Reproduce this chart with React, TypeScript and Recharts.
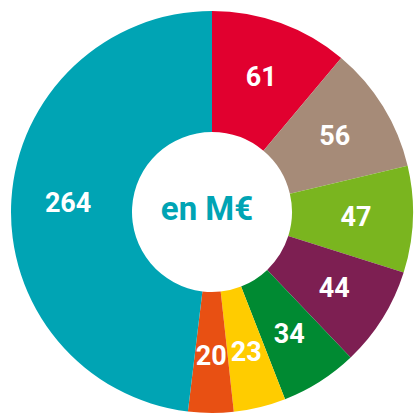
import { Cell, Label, Pie, PieChart } from "recharts";

const CATEGORIES = ["A", "B", "C", "D", "E", "F", "G", "H"];
const VALUES = [61, 56, 47, 44, 34, 23, 20, 264];
const COLORS = [
  "#e1002f",
  "#a68b78",
  "#7ab51f",
  "#7d1f52",
  "#008a32",
  "#ffcc00",
  "#e85013",
  "#00a4b4",
];

const RAD = Math.PI / 180;

const data = CATEGORIES.map((name, i) => ({ name, value: VALUES[i] }));

function renderLabel(props: any) {
  const { cx, cy, midAngle, innerRadius, outerRadius, value } = props;
  const r = innerRadius + (outerRadius - innerRadius) * 0.53;
  const x = cx + r * Math.cos(-midAngle * RAD);
  const y = cy + r * Math.sin(-midAngle * RAD);
  return (
    <text
      x={x}
      y={y}
      fill="#fff"
      textAnchor="middle"
      dominantBaseline="central"
      fontFamily="Roboto, sans-serif"
      fontWeight={700}
      fontSize={27}
    >
      {value}
    </text>
  );
}

export default function App() {
  return (
    <div style={{ position: "absolute", left: 0, top: 0, background: "#fff" }}>
      <PieChart
        width={414}
        height={416}
        margin={{ top: 0, right: 0, bottom: 0, left: 0 }}
      >
        <Pie
          data={data}
          dataKey="value"
          nameKey="name"
          cx={212}
          cy={212}
          innerRadius={80}
          outerRadius={201}
          startAngle={90}
          endAngle={-270}
          stroke="none"
          label={renderLabel}
          labelLine={false}
          isAnimationActive={false}
        >
          {data.map((_, i) => (
            <Cell key={i} fill={COLORS[i]} />
          ))}
          <Label
            position="center"
            value="en M€"
            fill="#00a4b4"
            fontFamily="Roboto, sans-serif"
            fontWeight={700}
            fontSize={33}
          />
        </Pie>
      </PieChart>
    </div>
  );
}
